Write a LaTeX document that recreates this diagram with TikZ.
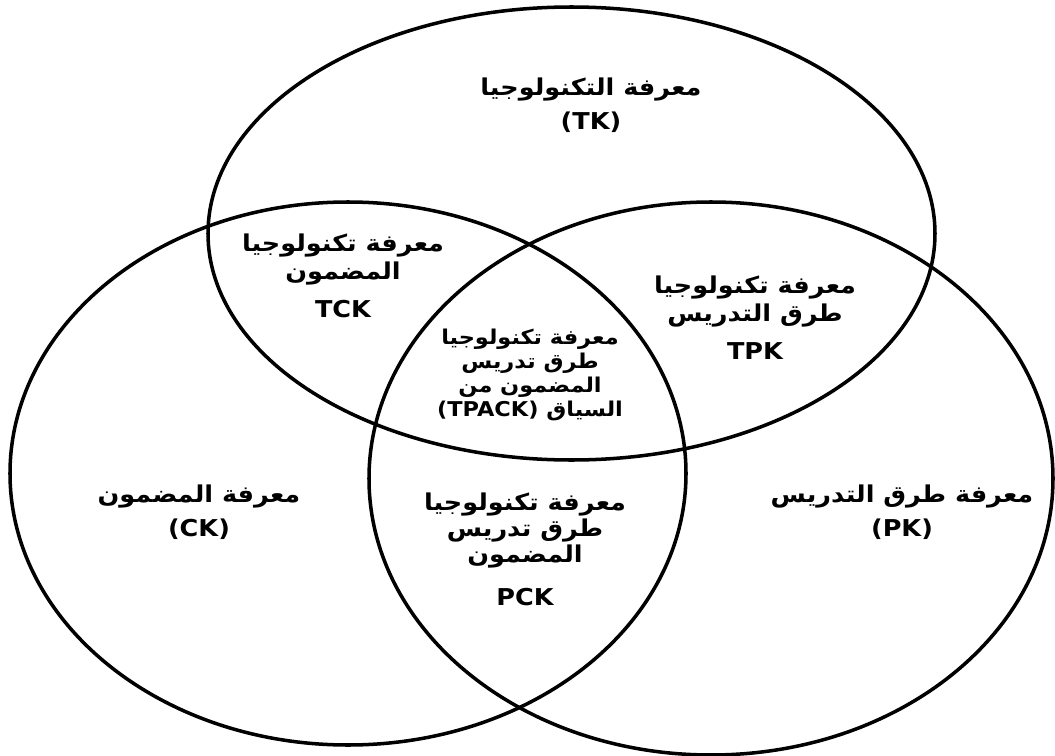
\documentclass[tikz,border=0pt]{standalone}
\usepackage{fontspec}
\setmainfont{DejaVu Sans}
\newfontfamily\arabicfont[Script=Arabic,FakeStretch=1.1]{DejaVu Sans}
\newfontfamily\latinfont[FakeStretch=1.1]{DejaVu Sans}
\TeXXeTstate=1
\tikzset{
  set/.style={line width=2.5pt},
  lbl/.style={align=center,inner sep=0pt,font=\arabicfont\bfseries\fontsize{16.5}{19.5}\selectfont},
  small/.style={lbl,font=\arabicfont\bfseries\fontsize{14.5}{17}\selectfont}
}
\newcommand\lat[1]{{\latinfont\bfseries #1}}
\begin{document}
\begin{tikzpicture}[x=0.025cm,y=-0.025cm]
      \useasboundingbox (0,0) rectangle (1055,756);
      % the three sets
      \draw[set] (571.5,233.5) coordinate (T) ellipse [x radius=363.5, y radius=226.5];
      \draw[set] (348,473.5) coordinate (C) ellipse [x radius=338, y radius=271.5];
      \draw[set] (711,478.5) coordinate (P) ellipse [x radius=342, y radius=276.5];
      % labels
      \node[lbl] (tk) at (591,105) {\beginR معرفة التكنولوجيا\endR\\[4.5pt]\lat{(TK)}};
      \node[lbl] (tck) at (343,276) {\beginR معرفة تكنولوجيا\endR\\\beginR المضمون\endR\\[8pt]\lat{TCK}};
      \node[lbl] (tpk) at (755,318) {\beginR معرفة تكنولوجيا\endR\\\beginR طرق التدريس\endR\\[8pt]\lat{TPK}};
      \node[small] (tpack) at (530,375) {\beginR معرفة تكنولوجيا\endR\\\beginR طرق تدريس\endR\\\beginR المضمون من\endR\\\beginR السياق \beginL\lat{(TPACK)}\endL\endR};
      \node[lbl] (ck) at (199,512) {\beginR معرفة المضمون\endR\\[4.5pt]\lat{(CK)}};
      \node[lbl] (pck) at (525,549) {\beginR معرفة تكنولوجيا\endR\\[-1pt]\beginR طرق تدريس\endR\\[-1pt]\beginR المضمون\endR\\[11pt]\lat{PCK}};
      \node[lbl] (pk) at (902,512) {\beginR معرفة طرق التدريس\endR\\[4.5pt]\lat{(PK)}};
\end{tikzpicture}
\end{document}
